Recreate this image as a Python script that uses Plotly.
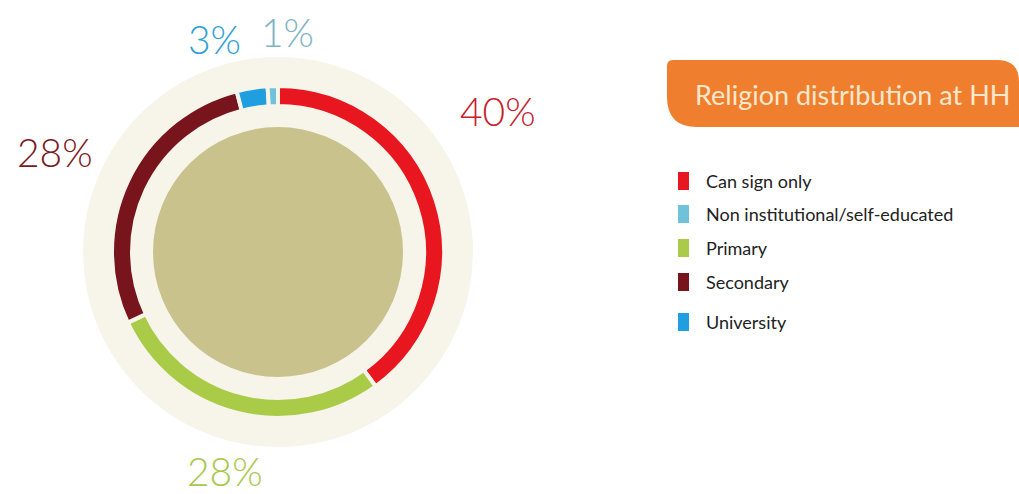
import plotly.graph_objects as go

W, H = 1019, 494

# Education levels of the household head (share, %)
categories = ["Can sign only", "Non institutional/self-educated", "Primary", "Secondary", "University"]
shares = [40, 1, 28, 28, 3]
colors = ["#e8161f", "#6fc2da", "#a9cb47", "#78141b", "#1f9fdf"]

# Order in which the slices run clockwise from 12 o'clock
ring_order = ["Can sign only", "Primary", "Secondary", "University", "Non institutional/self-educated"]

title_text = "Religion distribution at HH"

# Label colors and label centres (pixels) for the percentage callouts
label_colors = {
    "Can sign only": "#c8202e",
    "Non institutional/self-educated": "#7fb4c2",
    "Primary": "#a8c84a",
    "Secondary": "#7a1a24",
    "University": "#2f9fd8",
}
label_pos = {
    "Can sign only": (498, 111),
    "Non institutional/self-educated": (287, 32),
    "Primary": (225, 471),
    "Secondary": (55, 152),
    "University": (214, 39),
}


def px(x):
    return x / W


def py(y):
    return 1 - y / H


cx, cy = 278, 252
r_bg, r_ring, r_core = 195, 166, 125
beige = "#f7f4ea"
khaki = "#c9c28d"

lookup = dict(zip(categories, zip(shares, colors)))
ring_vals = [lookup[c][0] for c in ring_order]
ring_cols = [lookup[c][1] for c in ring_order]

fig = go.Figure()
fig.add_trace(go.Pie(
    labels=ring_order,
    values=ring_vals,
    marker=dict(colors=ring_cols, line=dict(color=beige, width=4)),
    hole=146 / 166,
    sort=False,
    direction="clockwise",
    rotation=0,
    textinfo="none",
    hoverinfo="label+percent",
    showlegend=False,
    domain=dict(x=[px(cx - r_ring), px(cx + r_ring)], y=[py(cy + r_ring), py(cy - r_ring)]),
))

shapes = []
# background disc and central disc
shapes.append(dict(type="circle", xref="paper", yref="paper", layer="below",
                   x0=px(cx - r_bg), x1=px(cx + r_bg), y0=py(cy + r_bg), y1=py(cy - r_bg),
                   fillcolor=beige, line=dict(width=0)))
shapes.append(dict(type="circle", xref="paper", yref="paper", layer="below",
                   x0=px(cx - r_core), x1=px(cx + r_core), y0=py(cy + r_core), y1=py(cy - r_core),
                   fillcolor=khaki, line=dict(width=0)))

# orange title tab with rounded corners
bx0, by0, by1 = 667, 60, 127
rtl, rbl, rtr = 6, 30, 22
path = (
    f"M {px(bx0 + rtl)},{py(by0)} "
    f"L {px(1019 - rtr)},{py(by0)} "
    f"Q {px(1019)},{py(by0)} {px(1019)},{py(by0 + rtr)} "
    f"L {px(1019)},{py(by1)} "
    f"L {px(bx0 + rbl)},{py(by1)} "
    f"Q {px(bx0)},{py(by1)} {px(bx0)},{py(by1 - rbl)} "
    f"L {px(bx0)},{py(by0 + rtl)} "
    f"Q {px(bx0)},{py(by0)} {px(bx0 + rtl)},{py(by0)} Z"
)
shapes.append(dict(type="path", xref="paper", yref="paper", path=path,
                   fillcolor="#ef7f2e", line=dict(width=0)))

annotations = []
annotations.append(dict(text=title_text, xref="paper", yref="paper",
                        x=px(852), y=py(94), xanchor="center", yanchor="middle",
                        showarrow=False, font=dict(family="Lato", size=27, color="#fbe8cc")))

# legend rows
row_y = [181, 214, 248, 282, 322]
for cat, col, yy in zip(categories, colors, row_y):
    shapes.append(dict(type="rect", xref="paper", yref="paper",
                       x0=px(678), x1=px(689), y0=py(yy + 9), y1=py(yy - 9),
                       fillcolor=col, line=dict(width=0)))
    annotations.append(dict(text=cat, xref="paper", yref="paper",
                            x=px(704), y=py(yy), xanchor="left", yanchor="middle",
                            showarrow=False, font=dict(family="Lato", size=18, color="#222222")))

# percentage callouts
for cat, val in zip(categories, shares):
    x, y = label_pos[cat]
    annotations.append(dict(text=f"{val}%", xref="paper", yref="paper",
                            x=px(x), y=py(y), xanchor="center", yanchor="middle",
                            showarrow=False,
                            font=dict(family="Lato", size=39, weight=300, color=label_colors[cat])))

fig.update_layout(
    width=W, height=H,
    margin=dict(l=0, r=0, t=0, b=0),
    paper_bgcolor="white",
    plot_bgcolor="white",
    shapes=shapes,
    annotations=annotations,
)

fig.write_html("out.html")
